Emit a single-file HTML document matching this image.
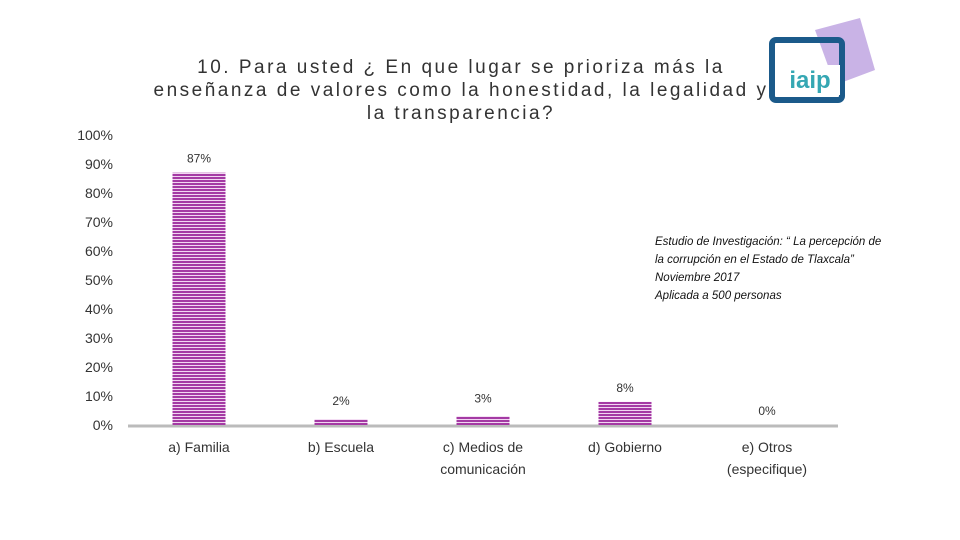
<!DOCTYPE html>
<html><head><meta charset="utf-8"><style>
body{margin:0;background:#fff;}
#wrap{position:relative;width:960px;height:540px;overflow:hidden;font-family:"Liberation Sans",sans-serif;}
#title{position:absolute;left:101px;top:56px;width:720px;text-align:center;font-size:19px;line-height:23px;letter-spacing:2.5px;color:#333;white-space:nowrap;}
#note{position:absolute;left:655px;top:233px;font-size:11.5px;line-height:18px;font-style:italic;color:#111;}
</style></head><body>
<div id="wrap">
<svg id="chart" width="960" height="540" style="position:absolute;left:0;top:0">
<defs><pattern id="stripes" width="4" height="3" patternUnits="userSpaceOnUse"><rect width="4" height="3" fill="#f1d6f1"/><rect width="4" height="2" fill="#a43aa4"/></pattern></defs>
<g id="logo">
<polygon points="815,30 860,18 875,70 835,85" fill="#c9b3e6"/>
<rect x="772" y="40" width="70" height="60" rx="4" fill="none" stroke="#1b5a8a" stroke-width="6"/>
<rect x="780" y="65" width="60" height="30" fill="#fff"/>
<text x="810" y="88" font-size="24" font-weight="bold" fill="#35a7b3" text-anchor="middle" font-family="Liberation Sans">iaip</text>
</g>
</svg>
<div id="title">10. Para usted ¿ En que lugar se prioriza más la<br>enseñanza de valores como la honestidad, la legalidad y<br>la transparencia?</div>
<div id="note">Estudio de Investigación: “ La percepción de<br>la corrupción en el Estado de Tlaxcala”<br>Noviembre 2017<br>Aplicada a 500 personas</div>
</div>
<script>
const categories=[["a) Familia"],["b) Escuela"],["c) Medios de","comunicación"],["d) Gobierno"],["e) Otros","(especifique)"]];
const values=[87,2,3,8,0];
const valueLabels=["87%","2%","3%","8%","0%"];
const yTicks=[0,10,20,30,40,50,60,70,80,90,100];
const svg=document.getElementById('chart');const NS='http://www.w3.org/2000/svg';
const x0=128,x1=838,y0=425,h=290;
const band=(x1-x0)/categories.length;
const xC=i=>x0+band*(i+0.5);
const yS=v=>y0-v/100*h;
function mk(t,a,txt){const e=document.createElementNS(NS,t);for(const k in a)e.setAttribute(k,a[k]);if(txt!==undefined)e.textContent=txt;svg.appendChild(e);return e;}
yTicks.forEach(t=>{const e=mk('text',{x:113,y:yS(t)+5,'text-anchor':'end','font-size':14,fill:'#333','font-family':'Liberation Sans'},t+'%');

});
const ax=mk('line',{x1:x0,x2:x1,y1:y0+1,y2:y0+1,stroke:'#bbb','stroke-width':3});


values.forEach((v,i)=>{const bw=53;
const r=mk('rect',{x:xC(i)-bw/2,y:yS(v),width:bw,height:y0-yS(v),fill:'url(#stripes)'});


const ly=v>5?yS(v)-10:(v===0?y0-10:yS(v)-14);
const l=mk('text',{x:xC(i),y:ly,'text-anchor':'middle','font-size':12,fill:'#333','font-family':'Liberation Sans'},valueLabels[i]);


categories[i].forEach((s,j)=>{const c=mk('text',{x:xC(i),y:452+j*22,'text-anchor':'middle','font-size':14,fill:'#333','font-family':'Liberation Sans'},s);

});});
</script>
</body></html>
